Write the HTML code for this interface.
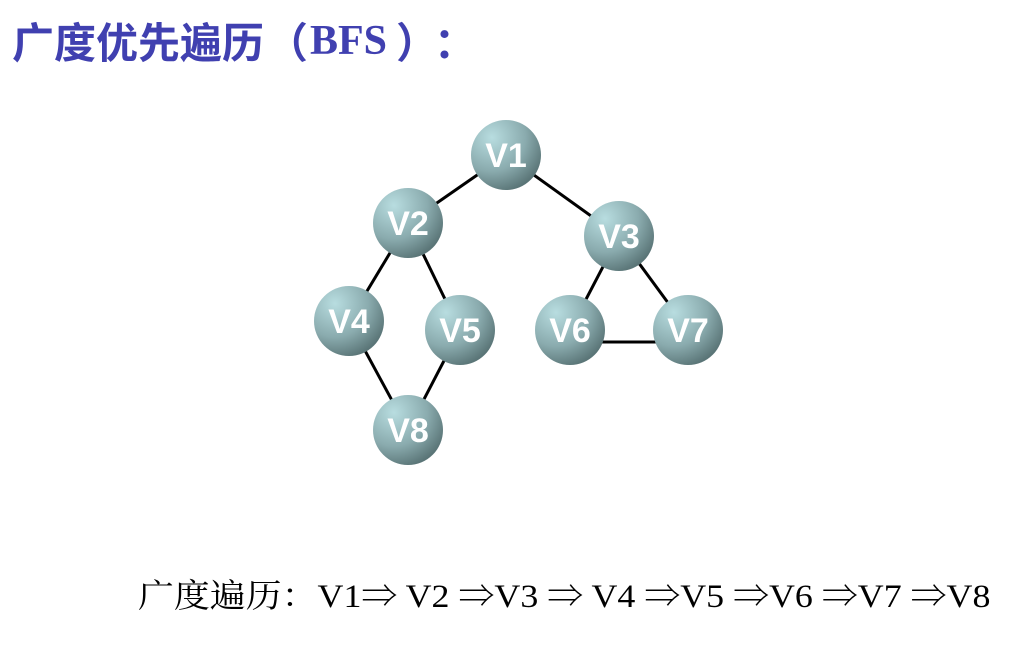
<!DOCTYPE html>
<html><head><meta charset="utf-8"><style>
body{margin:0;width:1024px;height:647px;background:#fff;position:relative;overflow:hidden}
.t{position:absolute;top:14px;font:bold 42px "Noto Sans CJK SC",sans-serif;color:#4040b0;white-space:nowrap;line-height:54px}
.s{font-family:"Liberation Serif",serif;font-size:42px}
.b{position:absolute;left:138px;top:570px;font:33px "Liberation Serif","Noto Serif CJK SC",serif;color:#000;white-space:nowrap;transform:scaleX(1.088);transform-origin:0 0}
</style></head><body>
<div class="t" style="left:12px">广度优先遍历</div>
<div class="t" style="left:266px">（</div>
<div class="t s" style="left:310px">BFS</div>
<div class="t" style="left:396px">）</div>
<div class="t" style="left:434px">：</div>
<svg width="1024" height="647" style="position:absolute;left:0;top:0">
<defs><radialGradient id="g" cx="30%" cy="25%" r="80%"><stop offset="0" stop-color="#b8dde0"/><stop offset="0.6" stop-color="#8aabae"/><stop offset="1" stop-color="#5a7577"/></radialGradient></defs>
<g stroke="#000" stroke-width="3">
<line x1="506" y1="155" x2="408" y2="223"/><line x1="506" y1="155" x2="619" y2="236"/>
<line x1="408" y1="223" x2="349" y2="321"/><line x1="408" y1="223" x2="460" y2="330"/>
<line x1="349" y1="321" x2="408" y2="430"/><line x1="460" y1="330" x2="408" y2="430"/>
<line x1="619" y1="236" x2="570" y2="330"/><line x1="619" y1="236" x2="688" y2="330"/>
<line x1="570" y1="342" x2="688" y2="342"/>
</g>
<g font-family="Liberation Sans,sans-serif" font-weight="bold" font-size="34" fill="#fff" text-anchor="middle">
<circle cx="506" cy="155" r="35" fill="url(#g)"/><text x="506" y="167">V1</text>
<circle cx="408" cy="223" r="35" fill="url(#g)"/><text x="408" y="235">V2</text>
<circle cx="619" cy="236" r="35" fill="url(#g)"/><text x="619" y="248">V3</text>
<circle cx="349" cy="321" r="35" fill="url(#g)"/><text x="349" y="333">V4</text>
<circle cx="460" cy="330" r="35" fill="url(#g)"/><text x="460" y="342">V5</text>
<circle cx="570" cy="330" r="35" fill="url(#g)"/><text x="570" y="342">V6</text>
<circle cx="688" cy="330" r="35" fill="url(#g)"/><text x="688" y="342">V7</text>
<circle cx="408" cy="430" r="35" fill="url(#g)"/><text x="408" y="442">V8</text>
</g></svg>
<div class="b">广度遍历：V1⇒ V2 ⇒V3 ⇒ V4 ⇒V5 ⇒V6 ⇒V7 ⇒V8</div>
</body></html>
